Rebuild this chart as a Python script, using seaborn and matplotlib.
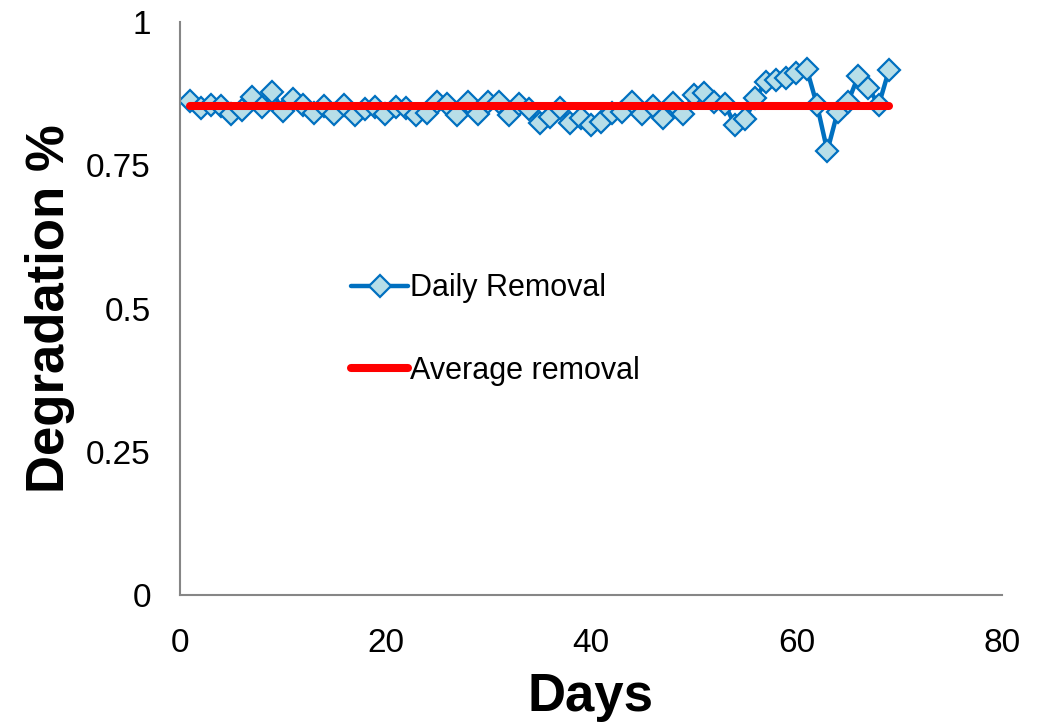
import matplotlib
matplotlib.use("Agg")
import matplotlib.pyplot as plt
import seaborn as sns
import pandas as pd

# Daily degradation readings over the run
days = list(range(1, 70))
daily_removal = [
    0.862, 0.850, 0.856, 0.853, 0.840, 0.846, 0.870, 0.851, 0.878, 0.845,
    0.866, 0.855, 0.842, 0.853, 0.840, 0.855, 0.838, 0.849, 0.852, 0.840,
    0.851, 0.850, 0.838, 0.842, 0.860, 0.857, 0.837, 0.860, 0.840, 0.861,
    0.861, 0.838, 0.857, 0.848, 0.823, 0.835, 0.850, 0.823, 0.833, 0.820,
    0.826, 0.841, 0.843, 0.861, 0.840, 0.854, 0.833, 0.858, 0.840, 0.873,
    0.876, 0.860, 0.857, 0.821, 0.830, 0.867, 0.895, 0.899, 0.903, 0.911,
    0.918, 0.855, 0.775, 0.843, 0.860, 0.905, 0.885, 0.855, 0.916,
]
average_removal = 0.853

x_ticks = [0, 20, 40, 60, 80]
y_ticks = [0, 0.25, 0.5, 0.75, 1]
y_tick_labels = ["0", "0.25", "0.5", "0.75", "1"]

df = pd.DataFrame({
    "Days": days,
    "Daily Removal": daily_removal,
    "Average removal": [average_removal] * len(days),
})

sns.set_theme(style="white")
plt.rcParams["font.family"] = ["Liberation Sans", "DejaVu Sans"]
plt.rcParams["text.color"] = "black"
plt.rcParams["axes.labelcolor"] = "black"

fig = plt.figure(figsize=(10.38, 7.27), dpi=100)
ax = fig.add_axes([0.1734, 0.1816, 0.7919, 0.7881])

sns.lineplot(data=df, x="Days", y="Daily Removal", ax=ax,
             color="#0070C0", linewidth=3.2, marker="D", markersize=11,
             markerfacecolor="#B7DEE8", markeredgecolor="#0070C0",
             markeredgewidth=1.6, label="Daily Removal", zorder=2)
sns.lineplot(data=df, x="Days", y="Average removal", ax=ax,
             color="#FF0000", linewidth=5.8, marker="o", markersize=3,
             markeredgewidth=0, label="Average removal", zorder=3)

ax.set_xlim(0, 80)
ax.set_ylim(0, 1)
ax.set_xticks(x_ticks)
ax.set_xticklabels([str(t) for t in x_ticks])
ax.set_yticks(y_ticks)
ax.set_yticklabels(y_tick_labels)
ax.tick_params(axis="both", length=0, labelsize=24, colors="black")
ax.tick_params(axis="y", pad=21)
ax.tick_params(axis="x", pad=24)

for side in ("top", "right"):
    ax.spines[side].set_visible(False)
for side in ("left", "bottom"):
    ax.spines[side].set_color("#868686")
    ax.spines[side].set_linewidth(1.5)

ax.set_xlabel("Days", fontsize=38, fontweight="bold", labelpad=9)
ax.set_ylabel("Degradation %", fontsize=38, fontweight="bold", labelpad=8)

leg = ax.legend(loc="upper left", bbox_to_anchor=(336 / 1038, 1 - 258 / 727),
                bbox_transform=fig.transFigure, frameon=False, fontsize=22,
                handlelength=1.87, handletextpad=0.05, labelspacing=1.72,
                borderpad=0)

fig.savefig("out.png", dpi=100)
